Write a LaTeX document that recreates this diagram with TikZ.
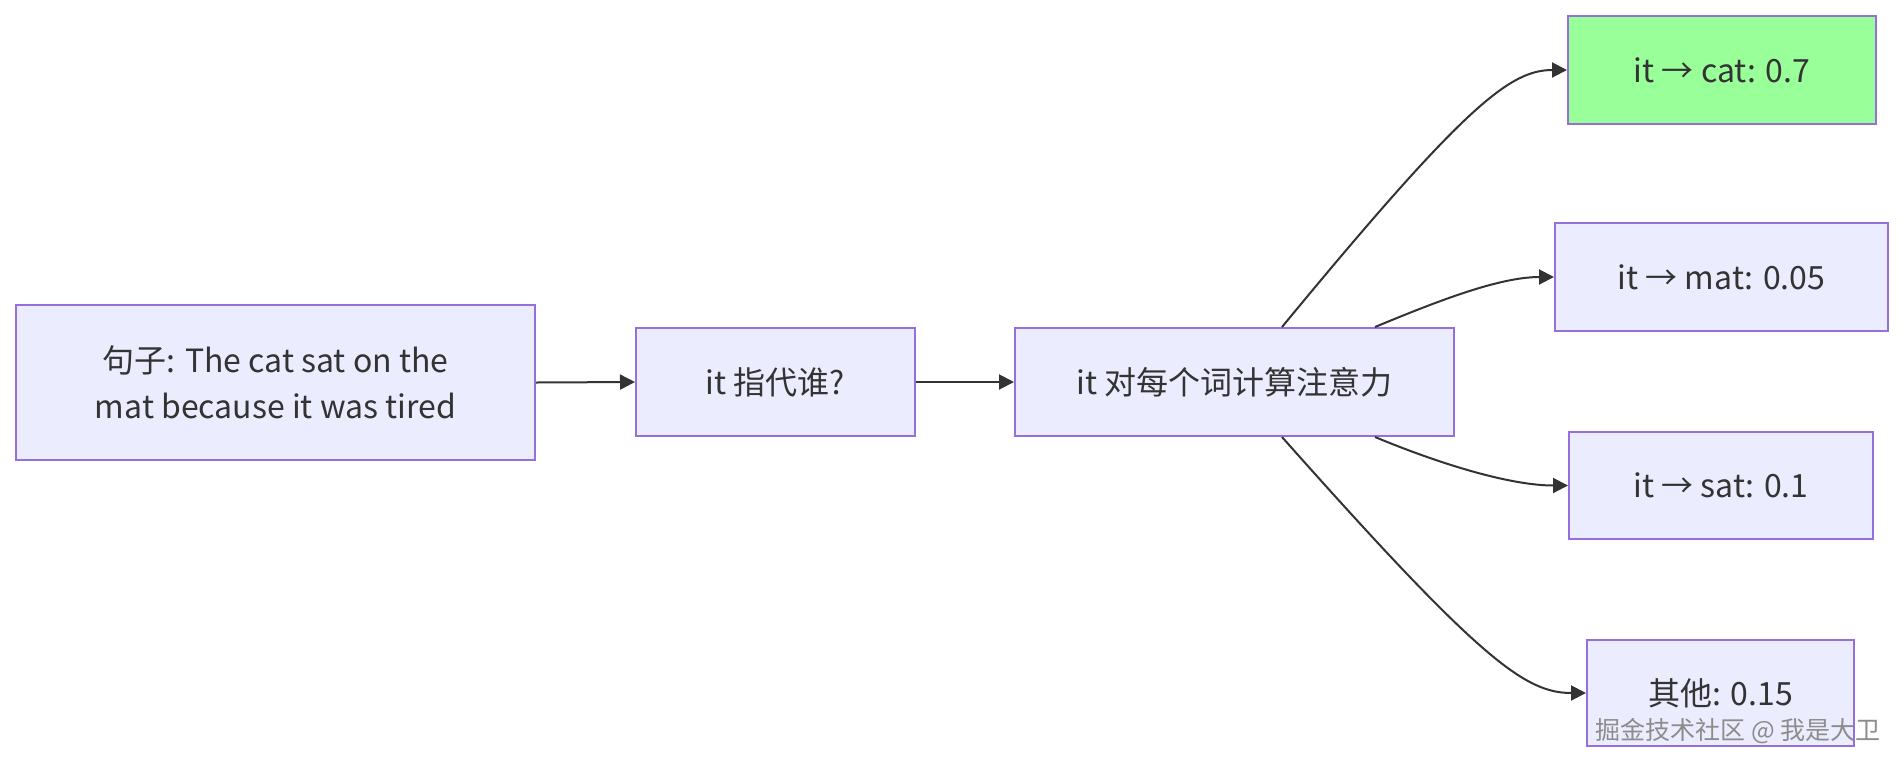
\documentclass[tikz,border=0pt]{standalone}
\usepackage{fontspec}
\newfontfamily\cjk{Noto Sans CJK SC}
\usetikzlibrary{arrows.meta,calc}
\definecolor{boxfill}{HTML}{ECECFF}
\definecolor{boxdraw}{HTML}{9370DB}
\definecolor{greenfill}{HTML}{99FF99}
\definecolor{ink}{HTML}{333333}
\tikzset{
  box/.style={draw=boxdraw, fill=boxfill, line width=2pt, inner sep=0pt,
    font=\cjk\fontsize{32}{46}\selectfont, text=ink, align=center},
  conn/.style={draw=ink, line width=2pt, -{Triangle[length=15pt,width=15pt]}},
}
\begin{document}
\begin{tikzpicture}[x=1pt,y=-1pt]
\useasboundingbox (0,0) rectangle (1903,764);
\node[box, minimum width=519pt, minimum height=155pt] (A) at (275.5,382.5) {句子: The cat sat on the\\mat because it was tired};
\node[box, minimum width=279pt, minimum height=108pt] (B) at (775.5,382) {it 指代谁?};
\node[box, minimum width=439pt, minimum height=108pt] (C) at (1234.5,382) {it 对每个词计算注意力};
\node[box, fill=greenfill, minimum width=308pt, minimum height=108pt] (D) at (1722,70) {it → cat: 0.7};
\node[box, minimum width=333pt, minimum height=108pt] (E) at (1721.5,277) {it → mat: 0.05};
\node[box, minimum width=304pt, minimum height=107pt] (F) at (1721,485.5) {it → sat: 0.1};
\node[box, minimum width=267pt, minimum height=106pt] (G) at (1720.5,693) {其他: 0.15};
\draw[conn] (A.east) -- (B.west);
\draw[conn] (B.east) -- (C.west);
\draw[conn] ([xshift=47.5pt]C.north) .. controls (1465,105) and (1510,70) .. (D.west);
\draw[conn] ([xshift=140.5pt]C.north) .. controls (1440,300) and (1500,277) .. (E.west);
\draw[conn] ([xshift=140.5pt]C.south) .. controls (1440,464) and (1510,485.5) .. (F.west);
\draw[conn] ([xshift=47.5pt]C.south) .. controls (1480,660) and (1525,693) .. (G.west);
\node[anchor=east, inner sep=0pt, font=\cjk\fontsize{25}{30}\selectfont, text=black!45] (W) at (1881,731) {掘金技术社区 @ 我是大卫};
\end{tikzpicture}
\end{document}
